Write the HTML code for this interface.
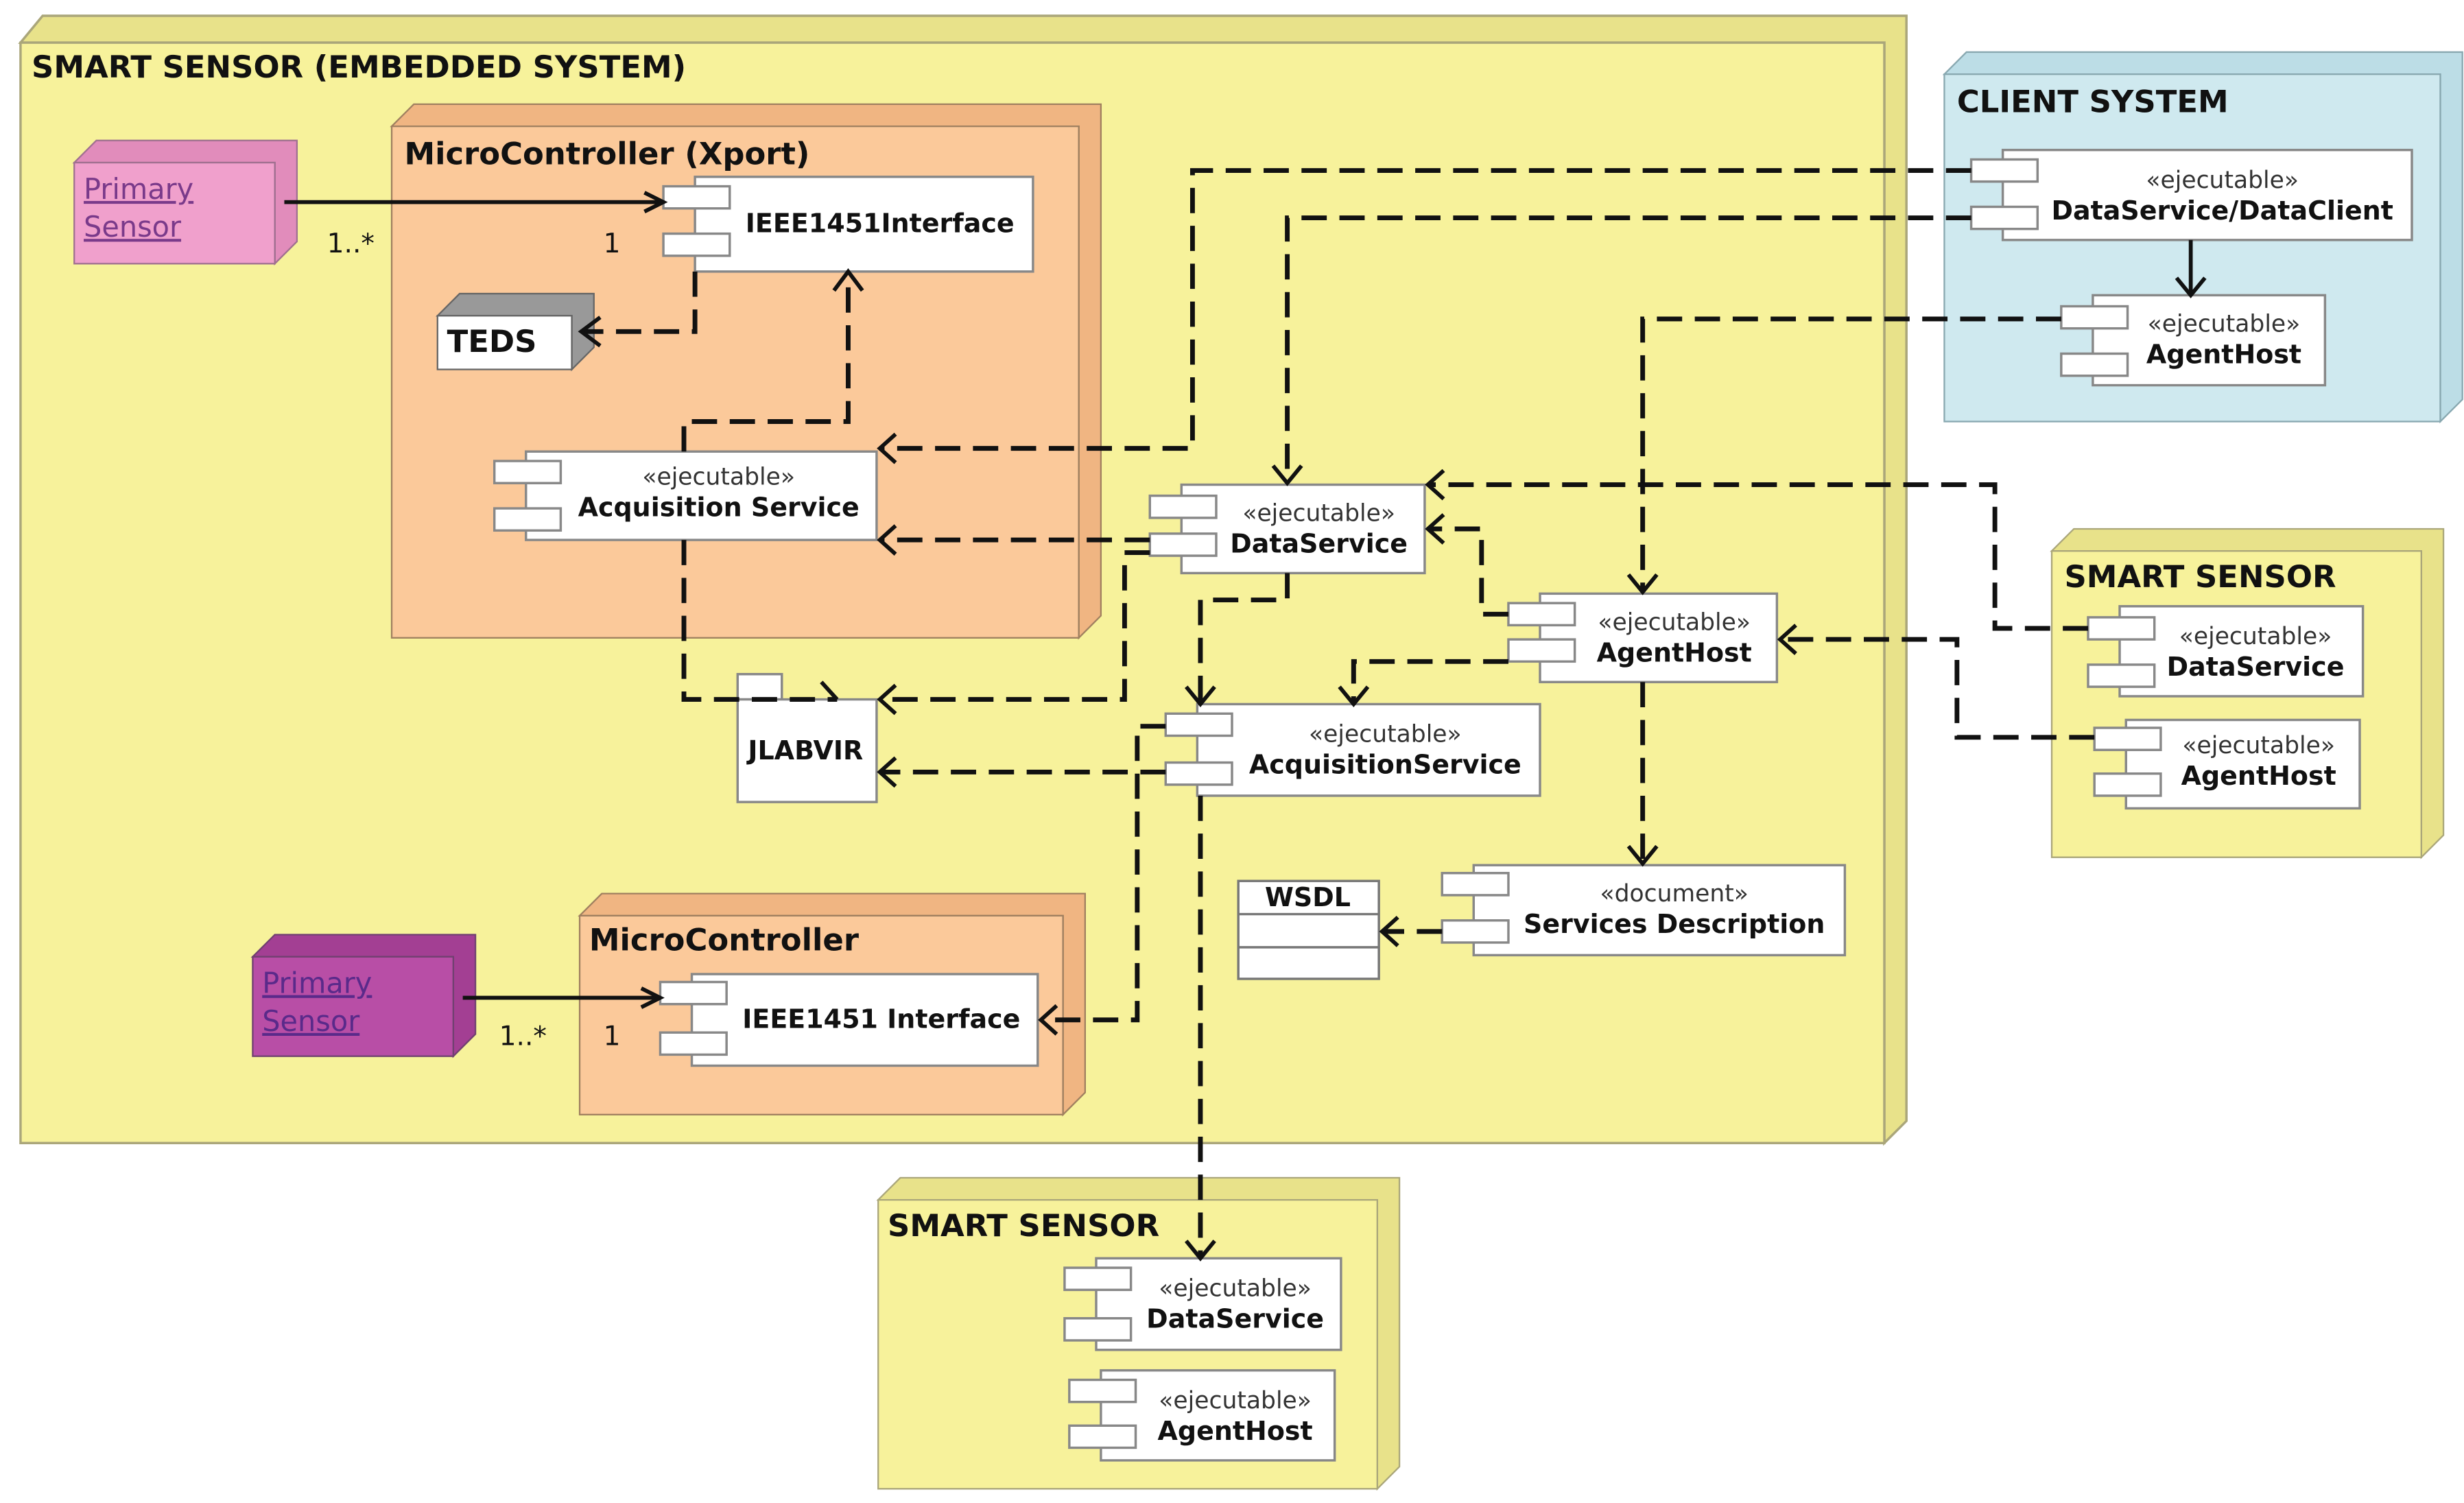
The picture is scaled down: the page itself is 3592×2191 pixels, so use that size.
<!DOCTYPE html>
<html><head><meta charset="utf-8"><style>
html,body{margin:0;padding:0;background:#fff;}
svg{display:block}
text{font-family:"DejaVu Sans","Liberation Sans",sans-serif;fill:#111}
.t{font-weight:bold;font-size:19.5px}
.b{font-weight:bold;font-size:16.5px}
.s{font-size:15px;fill:#333}
.d{fill:none;stroke:#111;stroke-width:3;stroke-dasharray:16 8}
.a{fill:none;stroke:#111;stroke-width:2.5}
.c{fill:#fff;stroke:#888;stroke-width:1.5}
</style></head><body>
<svg width="3592" height="2191" viewBox="0 0 1560 952" preserveAspectRatio="none" xmlns="http://www.w3.org/2000/svg">
<rect width="1560" height="952" fill="#fff"/>
<defs>
<g id="p"><rect width="42" height="14" class="c"/></g>
</defs>
<polygon points="13,27 27,10 1207,10 1207,710 1193,724 1193,27" fill="#e8e28a" stroke="#aaa67a" stroke-width="1.5"/>
<rect x="13" y="27" width="1180" height="697" fill="#f7f29b" stroke="#aaa67a" stroke-width="1.5"/>
<text x="20" y="49" class="t">SMART SENSOR (EMBEDDED SYSTEM)</text>
<polygon points="248,80 262,66 697,66 697,390 683,404 683,80" fill="#f0b582" stroke="#a08060"/>
<rect x="248" y="80" width="435" height="324" fill="#fbc99a" stroke="#a08060"/>
<text x="256" y="104" class="t">MicroController (Xport)</text>
<polygon points="47,103 61,89 188,89 188,153 174,167 174,103" fill="#e18cbb" stroke="#a07090"/>
<rect x="47" y="103" width="127" height="64" fill="#f0a0cc" stroke="#a07090"/>
<text x="53" y="126" style="font-size:18px;fill:#7a3a8a;text-decoration:underline">Primary</text>
<text x="53" y="150" style="font-size:18px;fill:#7a3a8a;text-decoration:underline">Sensor</text>
<rect x="440" y="112" width="214" height="60" class="c"/>
<use href="#p" x="420" y="118"/><use href="#p" x="420" y="148"/>
<text x="472" y="147" class="b">IEEE1451Interface</text>
<polygon points="277,200 291,186 376,186 376,220 362,234 362,200" fill="#999" stroke="#666"/>
<rect x="277" y="200" width="85" height="34" fill="#fff" stroke="#666"/>
<text x="283" y="223" class="t">TEDS</text>
<rect x="333" y="286" width="222" height="56" class="c"/>
<use href="#p" x="313" y="292"/><use href="#p" x="313" y="322"/>
<text x="455" y="307" class="s" text-anchor="middle">«ejecutable»</text>
<text x="455" y="327" class="b" text-anchor="middle">Acquisition Service</text>
<rect x="748" y="307" width="154" height="56" class="c"/>
<use href="#p" x="728" y="314"/><use href="#p" x="728" y="338"/>
<text x="835" y="330" class="s" text-anchor="middle">«ejecutable»</text>
<text x="835" y="350" class="b" text-anchor="middle">DataService</text>
<rect x="975" y="376" width="150" height="56" class="c"/>
<use href="#p" x="955" y="382"/><use href="#p" x="955" y="405"/>
<text x="1060" y="399" class="s" text-anchor="middle">«ejecutable»</text>
<text x="1060" y="419" class="b" text-anchor="middle">AgentHost</text>
<rect x="758" y="446" width="217" height="58" class="c"/>
<use href="#p" x="738" y="452"/><use href="#p" x="738" y="483"/>
<text x="877" y="470" class="s" text-anchor="middle">«ejecutable»</text>
<text x="877" y="490" class="b" text-anchor="middle">AcquisitionService</text>
<rect x="467" y="427" width="28" height="16" class="c"/>
<rect x="467" y="443" width="88" height="65" class="c"/>
<text x="510" y="481" class="b" text-anchor="middle">JLABVIR</text>
<rect x="784" y="558" width="89" height="62" fill="#fff" stroke="#777" stroke-width="1.5"/>
<line x1="784" y1="579" x2="873" y2="579" stroke="#777" stroke-width="1.5"/>
<line x1="784" y1="600" x2="873" y2="600" stroke="#777" stroke-width="1.5"/>
<text x="828" y="574" class="b" text-anchor="middle">WSDL</text>
<rect x="933" y="548" width="235" height="57" class="c"/>
<use href="#p" x="913" y="553"/><use href="#p" x="913" y="583"/>
<text x="1060" y="571" class="s" text-anchor="middle">«document»</text>
<text x="1060" y="591" class="b" text-anchor="middle">Services Description</text>
<polygon points="367,580 381,566 687,566 687,692 673,706 673,580" fill="#f0b582" stroke="#a08060"/>
<rect x="367" y="580" width="306" height="126" fill="#fbc99a" stroke="#a08060"/>
<text x="373" y="602" class="t">MicroController</text>
<polygon points="160,606 174,592 301,592 301,655 287,669 287,606" fill="#a33f93" stroke="#704070"/>
<rect x="160" y="606" width="127" height="63" fill="#b84ea6" stroke="#704070"/>
<text x="166" y="629" style="font-size:18px;fill:#5a2a8a;text-decoration:underline">Primary</text>
<text x="166" y="653" style="font-size:18px;fill:#5a2a8a;text-decoration:underline">Sensor</text>
<rect x="438" y="617" width="219" height="58" class="c"/>
<use href="#p" x="418" y="622"/><use href="#p" x="418" y="654"/>
<text x="558" y="651" class="b" text-anchor="middle">IEEE1451 Interface</text>
<polygon points="1231,47 1245,33 1559,33 1559,253 1545,267 1545,47" fill="#bcdde6" stroke="#88a8b0"/>
<rect x="1231" y="47" width="314" height="220" fill="#cfe9ef" stroke="#88a8b0"/>
<text x="1239" y="71" class="t">CLIENT SYSTEM</text>
<rect x="1268" y="95" width="259" height="57" class="c"/>
<use href="#p" x="1248" y="101"/><use href="#p" x="1248" y="131"/>
<text x="1407" y="119" class="s" text-anchor="middle">«ejecutable»</text>
<text x="1407" y="139" class="b" text-anchor="middle">DataService/DataClient</text>
<rect x="1325" y="187" width="147" height="57" class="c"/>
<use href="#p" x="1305" y="194"/><use href="#p" x="1305" y="224"/>
<text x="1408" y="210" class="s" text-anchor="middle">«ejecutable»</text>
<text x="1408" y="230" class="b" text-anchor="middle">AgentHost</text>
<polygon points="1299,349 1313,335 1547,335 1547,529 1533,543 1533,349" fill="#e8e28a" stroke="#aaa67a"/>
<rect x="1299" y="349" width="234" height="194" fill="#f7f29b" stroke="#aaa67a"/>
<text x="1307" y="372" class="t">SMART SENSOR</text>
<rect x="1342" y="384" width="154" height="57" class="c"/>
<use href="#p" x="1322" y="391"/><use href="#p" x="1322" y="421"/>
<text x="1428" y="408" class="s" text-anchor="middle">«ejecutable»</text>
<text x="1428" y="428" class="b" text-anchor="middle">DataService</text>
<rect x="1346" y="456" width="148" height="56" class="c"/>
<use href="#p" x="1326" y="461"/><use href="#p" x="1326" y="490"/>
<text x="1430" y="477" class="s" text-anchor="middle">«ejecutable»</text>
<text x="1430" y="497" class="b" text-anchor="middle">AgentHost</text>
<polygon points="556,760 570,746 886,746 886,929 872,943 872,760" fill="#e8e28a" stroke="#aaa67a"/>
<rect x="556" y="760" width="316" height="183" fill="#f7f29b" stroke="#aaa67a"/>
<text x="562" y="783" class="t">SMART SENSOR</text>
<rect x="694" y="797" width="155" height="58" class="c"/>
<use href="#p" x="674" y="803"/><use href="#p" x="674" y="835"/>
<text x="782" y="821" class="s" text-anchor="middle">«ejecutable»</text>
<text x="782" y="841" class="b" text-anchor="middle">DataService</text>
<rect x="697" y="868" width="148" height="57" class="c"/>
<use href="#p" x="677" y="874"/><use href="#p" x="677" y="903"/>
<text x="782" y="892" class="s" text-anchor="middle">«ejecutable»</text>
<text x="782" y="912" class="b" text-anchor="middle">AgentHost</text>

<line x1="180" y1="128" x2="420" y2="128" class="a" stroke-width="2"/>
<path d="M408,122 L420,128 L408,134" class="a" stroke-width="1.5"/>
<text x="207" y="160" style="font-size:17px">1..*</text><text x="382" y="160" style="font-size:17px">1</text>
<line x1="293" y1="632" x2="418" y2="632" class="a" stroke-width="2"/>
<path d="M406,626 L418,632 L406,638" class="a" stroke-width="1.5"/>
<text x="316" y="662" style="font-size:17px">1..*</text><text x="382" y="662" style="font-size:17px">1</text>
<line x1="1387" y1="152" x2="1387" y2="187" class="a" stroke-width="2"/>
<path d="M1378,176 L1387,187 L1396,176" class="a" stroke-width="2"/>

<path d="M440,172 V210 H368" class="d"/><path d="M380,201 L368,210 L380,219" class="a"/>
<path d="M433,286 V267 H537 V174" class="d"/><path d="M528,184 L537,172 L546,184" class="a"/>
<path d="M433,342 V443 H530" class="d"/><path d="M520,432 L530,443" class="a"/>
<path d="M1248,108 H755 V284 H557" class="d"/><path d="M567,275 L557,284 L567,293" class="a"/>
<path d="M1248,138 H815 V305" class="d"/><path d="M806,295 L815,306 L824,295" class="a"/>
<path d="M728,342 H557" class="d"/><path d="M567,333 L557,342 L567,351" class="a"/>
<path d="M728,350 H712 V443 H557" class="d"/><path d="M567,434 L557,443 L567,452" class="a"/>
<path d="M815,363 V380 H760 V445" class="d"/><path d="M751,435 L760,446 L769,435" class="a"/>
<path d="M1305,202 H1040 V374" class="d"/><path d="M1031,364 L1040,375 L1049,364" class="a"/>
<path d="M1322,398 H1263 V307 H904" class="d"/><path d="M914,298 L904,307 L914,316" class="a"/>
<path d="M1326,467 H1239 V405 H1127" class="d"/><path d="M1137,396 L1127,405 L1137,414" class="a"/>
<path d="M955,389 H938 V335 H904" class="d"/><path d="M914,326 L904,335 L914,344" class="a"/>
<path d="M955,419 H857 V445" class="d"/><path d="M848,435 L857,446 L866,435" class="a"/>
<path d="M1040,432 V546" class="d"/><path d="M1031,536 L1040,547 L1049,536" class="a"/>
<path d="M913,590 H875" class="d"/><path d="M885,581 L875,590 L885,599" class="a"/>
<path d="M738,489 H557" class="d"/><path d="M567,480 L557,489 L567,498" class="a"/>
<path d="M738,460 H720 V646 H659" class="d"/><path d="M669,637 L659,646 L669,655" class="a"/>
<path d="M760,504 V796" class="d"/><path d="M751,786 L760,797 L769,786" class="a"/>
</svg>
</body></html>
